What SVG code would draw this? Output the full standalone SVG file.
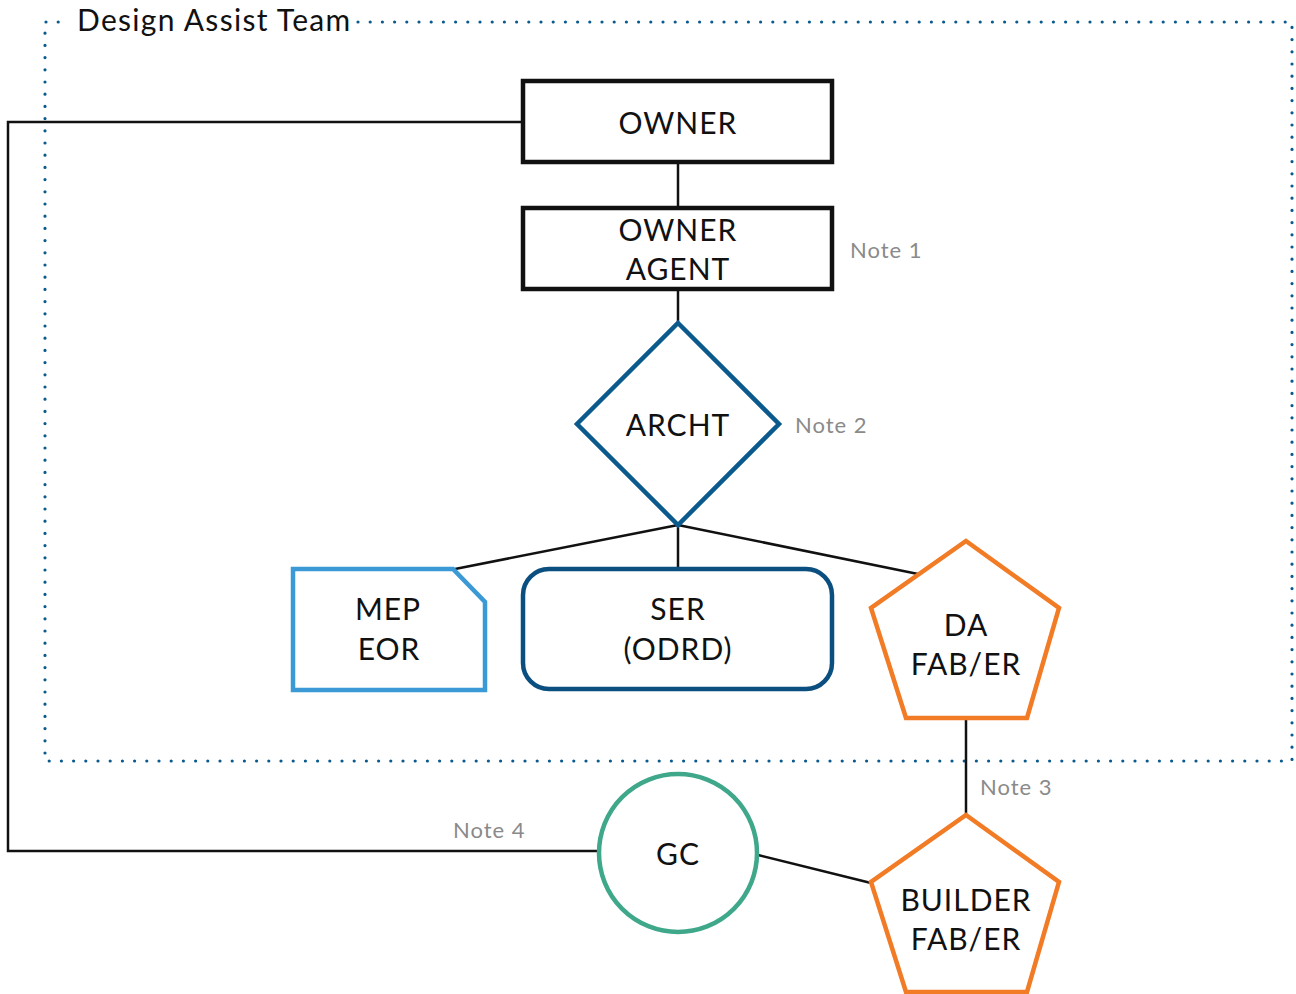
<svg xmlns="http://www.w3.org/2000/svg" width="1296" height="994" viewBox="0 0 1296 994">
<style>
.lbl{font-family:Lato,"Noto Sans","Liberation Sans",sans-serif;font-size:30px;letter-spacing:1px;fill:#111;text-anchor:middle}
.note{font-family:Lato,"Noto Sans","Liberation Sans",sans-serif;font-size:22px;letter-spacing:1px;fill:#8a8a8a}
.conn{stroke:#111;stroke-width:2.5;fill:none}
.box{fill:#fff;stroke:#111;stroke-width:4.5}
.orange{fill:#fff;stroke:#f27b25;stroke-width:4.5;stroke-linejoin:miter}
</style>
<rect width="1296" height="994" fill="#fff"/>
<g id="team">
<path d="M358 22 H1292 V761 H45 V22 H70" fill="none" stroke="#0b5a8e" stroke-width="3.2" stroke-linecap="round" stroke-dasharray="0 12.2"/>
<text x="77" y="31" font-family="Lato,'Noto Sans','Liberation Sans',sans-serif" font-size="30" letter-spacing="1.3" fill="#111">Design Assist Team</text>
</g>
<g id="connectors">
<polyline class="conn" points="523,122 8,122 8,851 598,851"/>
<line class="conn" x1="678" y1="162" x2="678" y2="208"/>
<line class="conn" x1="678" y1="289" x2="678" y2="323"/>
<line class="conn" x1="678" y1="525" x2="455" y2="569"/>
<line class="conn" x1="678" y1="525" x2="678" y2="569"/>
<line class="conn" x1="678" y1="525" x2="918" y2="574"/>
<line class="conn" x1="966" y1="718" x2="966" y2="815"/>
<line class="conn" x1="758" y1="855" x2="871" y2="883"/>
</g>
<g id="owner">
<rect class="box" x="523" y="81" width="309" height="81"/>
<text class="lbl" x="678" y="134">OWNER</text>
</g>
<g id="owner-agent">
<rect class="box" x="523" y="208" width="309" height="81"/>
<text class="lbl" x="678" y="241">OWNER</text>
<text class="lbl" x="678" y="280">AGENT</text>
<text class="note" x="850" y="258">Note 1</text>
</g>
<g id="archt">
<polygon points="678,323 779,424 678,525 577,424" fill="#fff" stroke="#0b5a8e" stroke-width="4.5"/>
<text class="lbl" x="678" y="436">ARCHT</text>
<text class="note" x="795" y="433">Note 2</text>
</g>
<g id="mep">
<polygon points="293,569 453,569 485,602 485,690 293,690" fill="#fff" stroke="#3b9ad6" stroke-width="4.5"/>
<text class="lbl" x="388" y="620">MEP</text>
<text class="lbl" x="389" y="660">EOR</text>
</g>
<g id="ser">
<rect x="523" y="569" width="309" height="120" rx="26" fill="#fff" stroke="#0b4f80" stroke-width="4.5"/>
<text class="lbl" x="678" y="620">SER</text>
<text class="lbl" x="678" y="660">(ODRD)</text>
</g>
<g id="da">
<polygon class="orange" points="966,541 1059,608 1027,718 906,718 871,608"/>
<text class="lbl" x="966" y="636">DA</text>
<text class="lbl" x="966" y="675">FAB/ER</text>
<text class="note" x="980" y="795">Note 3</text>
</g>
<g id="gc">
<circle cx="678" cy="853" r="79" fill="#fff" stroke="#3fa88a" stroke-width="4.5"/>
<text class="lbl" x="678" y="865">GC</text>
<text class="note" x="453" y="838">Note 4</text>
</g>
<g id="builder">
<polygon class="orange" points="966,815 1059,882 1027,992 906,992 871,882"/>
<text class="lbl" x="966" y="911">BUILDER</text>
<text class="lbl" x="966" y="950">FAB/ER</text>
</g>
</svg>
